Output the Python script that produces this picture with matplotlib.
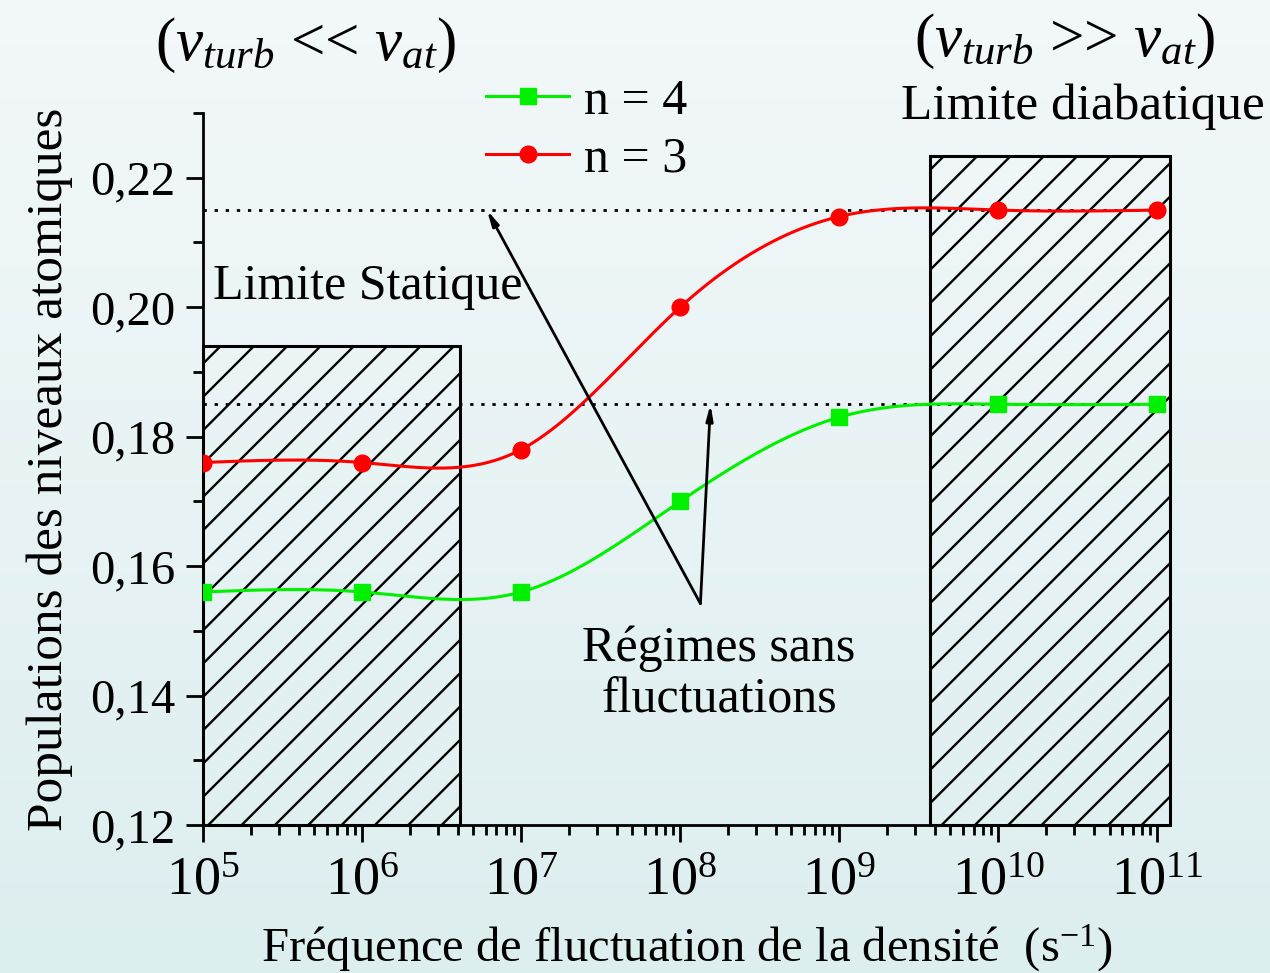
import matplotlib
matplotlib.use("Agg")
import matplotlib.pyplot as plt
from matplotlib.patches import Rectangle
from matplotlib.ticker import FixedLocator, FuncFormatter, LogLocator, MultipleLocator, NullFormatter
import numpy as np

# data
freq = [1e5, 1e6, 1e7, 1e8, 1e9, 1e10, 1e11]
pop_n3 = [0.176, 0.176, 0.178, 0.200, 0.214, 0.215, 0.215]
pop_n4 = [0.156, 0.156, 0.156, 0.170, 0.183, 0.185, 0.185]
level_n3 = 0.215
level_n4 = 0.185
static_zone = (1e5, 4.1e6, 0.194)      # x0, x1, top
diabatic_zone = (3.7e9, 1.2e11, 0.2234)
y_ticks = [0.12, 0.14, 0.16, 0.18, 0.20, 0.22]

plt.rcParams['font.family'] = ['Liberation Serif', 'DejaVu Serif']
plt.rcParams['mathtext.fontset'] = 'custom'
plt.rcParams['mathtext.rm'] = 'Liberation Serif'
plt.rcParams['mathtext.it'] = 'Liberation Serif:italic'
plt.rcParams['hatch.linewidth'] = 1.7

RED = '#ff0000'
GREEN = '#00f000'


def natural_spline(x, y, xs):
    # smooth line through the points, like the original plotting program
    x = np.asarray(x, float)
    y = np.asarray(y, float)
    n = len(x)
    h = np.diff(x)
    A = np.zeros((n, n))
    r = np.zeros(n)
    A[0, 0] = A[-1, -1] = 1
    for i in range(1, n - 1):
        A[i, i - 1] = h[i - 1]
        A[i, i] = 2 * (h[i - 1] + h[i])
        A[i, i + 1] = h[i]
        r[i] = 3 * ((y[i + 1] - y[i]) / h[i] - (y[i] - y[i - 1]) / h[i - 1])
    c = np.linalg.solve(A, r)
    b = (y[1:] - y[:-1]) / h - h * (2 * c[:-1] + c[1:]) / 3
    d = (c[1:] - c[:-1]) / (3 * h)
    idx = np.clip(np.searchsorted(x, xs) - 1, 0, n - 2)
    dx = xs - x[idx]
    return y[idx] + b[idx] * dx + c[idx] * dx ** 2 + d[idx] * dx ** 3


fig = plt.figure(figsize=(12.7, 9.73), dpi=100)

# light gradient background
bg = fig.add_axes([0, 0, 1, 1], zorder=-10)
grad = np.linspace(0, 1, 256).reshape(-1, 1)
top = np.array([243, 248, 250]) / 255
bot = np.array([221, 238, 239]) / 255
img = top[None, None, :] * (1 - grad[:, :, None]) + bot[None, None, :] * grad[:, :, None]
bg.imshow(img, aspect='auto', extent=[0, 1, 0, 1])
bg.axis('off')

ax = fig.add_axes([0.1598, 0.1521, 0.7615, 0.7318])
ax.set_facecolor('none')
ax.set_xscale('log')
ax.set_xlim(1e5, 1.2e11)
ax.set_ylim(0.12, 0.23)

lx = np.log10(freq)
xs = np.linspace(lx[0], lx[-1], 400)

ax.plot(10 ** xs, natural_spline(lx, pop_n3, xs), color=RED, lw=2.2, zorder=3)
ax.plot(10 ** xs, natural_spline(lx, pop_n4, xs), color=GREEN, lw=2.2, zorder=3)
ax.plot(freq, pop_n3, 'o', color=RED, ms=12, zorder=4)
ax.plot(freq, pop_n4, 's', color=GREEN, ms=11, zorder=4)

# legend
h4, = ax.plot([], [], '-s', color=GREEN, lw=2.2, ms=11, label='n = 4')
h3, = ax.plot([], [], '-o', color=RED, lw=2.2, ms=12, label='n = 3')
fig.legend(handles=[h4, h3], loc='center left', bbox_to_anchor=(0.383, 0.866),
           frameon=False, fontsize=36, handlelength=1.65, handletextpad=0.3,
           labelspacing=0.22, borderpad=0, borderaxespad=0)

# asymptotic levels
for lev in (level_n3, level_n4):
    ax.plot([freq[0], freq[-1]], [lev, lev], color='black', lw=2,
            dashes=(1.2, 2.8), zorder=2)

# hatched limit zones
for x0, x1, ytop in (static_zone, diabatic_zone):
    ax.add_patch(Rectangle((x0, 0.12), x1 - x0, ytop - 0.12, facecolor='none',
                           edgecolor='black', hatch='/', lw=2.2, zorder=1, clip_on=False))

ax.text(1.16e5, 0.2031, 'Limite Statique', fontsize=36, ha='left', va='center')
ax.text(1.75e8, 0.1433, 'Régimes sans\nfluctuations', fontsize=36, ha='center',
        va='center', linespacing=1.15)

arrow = dict(arrowstyle='-|>,head_length=0.9,head_width=0.2', color='black', lw=2,
             shrinkA=0, shrinkB=0)
ax.annotate('', xy=(6.1e6, level_n3), xytext=(1.34e8, 0.1542), arrowprops=arrow)
ax.annotate('', xy=(1.55e8, level_n4), xytext=(1.34e8, 0.1542), arrowprops=arrow)

fig.text(0.241, 0.953, r'$(\nu_{turb}$ << $\nu_{at})$', fontsize=44,
         ha='center', va='center')
fig.text(0.838, 0.957, r'$(\nu_{turb}$ >> $\nu_{at})$', fontsize=44,
         ha='center', va='center')
fig.text(0.853, 0.890, 'Limite diabatique', fontsize=37, ha='center', va='center')

# axes styling
for s in ('top', 'right'):
    ax.spines[s].set_visible(False)
for s in ('left', 'bottom'):
    ax.spines[s].set_linewidth(2)

ax.xaxis.set_major_locator(LogLocator(base=10, numticks=20))
ax.xaxis.set_minor_locator(LogLocator(base=10, subs=np.arange(2, 10), numticks=20))
ax.xaxis.set_minor_formatter(NullFormatter())
ax.xaxis.set_major_formatter(FuncFormatter(
    lambda v, p: r'$\mathregular{10^{%d}}$' % round(np.log10(v))))
ax.yaxis.set_major_locator(FixedLocator(y_ticks))
ax.yaxis.set_minor_locator(MultipleLocator(0.01))
ax.yaxis.set_major_formatter(FuncFormatter(lambda v, p: f'{v:.2f}'.replace('.', ',')))

ax.tick_params(which='major', direction='out', length=12, width=2, labelsize=35)
ax.tick_params(which='minor', direction='out', length=7, width=2)
ax.tick_params(axis='x', labelsize=39, pad=10)
ax.tick_params(axis='y', pad=8)

ax.set_xlabel('Fréquence de fluctuation de la densité  (s$^{\\mathregular{-1}}$)',
              fontsize=35, labelpad=12)
ax.set_ylabel('Populations des niveaux atomiques', fontsize=37, labelpad=12)

fig.savefig('out.png', dpi=100)
